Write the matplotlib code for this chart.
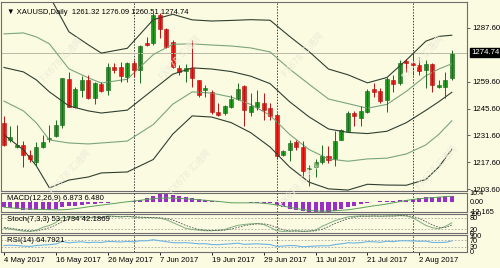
import numpy as np
import matplotlib
matplotlib.use("Agg")
import matplotlib.pyplot as plt

# ── data (XAUUSD daily, 4 May - 9 Aug 2017) ────────────────────────────
opens = [1238.3, 1229.5, 1225.4, 1226.9, 1221.7, 1217.6, 1225.4, 1229.8, 1231.1, 1237.3,
         1261.2, 1246.6, 1255.5, 1260.6, 1251.3, 1258.6, 1255.4, 1267.4, 1267.4, 1262.2,
         1269.5, 1265.8, 1279.8, 1279.8, 1294.3, 1287.1, 1280.3, 1266.9, 1265.3, 1266.9,
         1260.6, 1255.4, 1254.4, 1244.0, 1243.5, 1246.6, 1250.8, 1257.5, 1244.0, 1246.6,
         1248.7, 1246.1, 1242.5, 1221.7, 1223.8, 1228.0, 1225.4, 1213.9, 1215.0, 1217.6,
         1220.7, 1219.2, 1229.5, 1233.7, 1243.5, 1240.9, 1244.0, 1256.0, 1254.9, 1250.3,
         1260.6, 1259.1, 1270.5, 1269.5, 1268.4, 1265.8, 1268.9, 1257.0, 1257.0, 1261.32]
highs = [1241.5, 1236.3, 1237.3, 1228.5, 1224.3, 1228.0, 1232.1, 1237.3, 1239.9, 1261.7,
         1264.8, 1257.0, 1262.7, 1263.2, 1259.6, 1259.6, 1269.5, 1269.5, 1270.0, 1270.0,
         1271.0, 1278.8, 1282.9, 1295.4, 1295.4, 1287.6, 1281.4, 1268.4, 1268.9, 1281.4,
         1260.6, 1258.0, 1255.4, 1248.7, 1247.7, 1252.9, 1259.1, 1258.0, 1253.9, 1255.4,
         1253.9, 1248.7, 1243.5, 1224.3, 1229.5, 1229.5, 1228.5, 1216.0, 1219.2, 1226.9,
         1225.9, 1233.7, 1235.2, 1244.6, 1244.6, 1247.2, 1256.0, 1259.1, 1256.5, 1262.2,
         1263.2, 1271.0, 1271.5, 1275.2, 1272.6, 1271.0, 1269.5, 1260.6, 1264.8, 1276.09]
lows = [1225.9, 1228.0, 1225.0, 1215.0, 1217.6, 1215.5, 1224.9, 1228.0, 1230.6, 1235.7,
        1246.6, 1246.1, 1251.8, 1250.8, 1248.2, 1254.4, 1252.9, 1264.3, 1259.6, 1259.6,
        1262.2, 1259.1, 1278.3, 1278.8, 1282.4, 1277.2, 1266.9, 1263.2, 1259.6, 1257.0,
        1251.8, 1251.8, 1243.0, 1241.5, 1242.5, 1246.1, 1250.3, 1236.3, 1241.5, 1245.1,
        1239.9, 1239.9, 1219.2, 1220.7, 1218.1, 1224.3, 1210.3, 1205.2, 1209.8, 1216.6,
        1217.1, 1215.5, 1229.0, 1233.2, 1236.3, 1236.3, 1243.5, 1251.8, 1248.7, 1244.0,
        1254.4, 1258.0, 1264.8, 1263.2, 1263.2, 1256.5, 1254.4, 1256.5, 1251.3, 1260.51]
closes = [1226.9, 1230.6, 1226.9, 1221.7, 1219.2, 1225.4, 1228.0, 1230.4, 1237.3, 1261.7,
          1246.6, 1256.0, 1260.6, 1251.3, 1259.1, 1254.9, 1267.4, 1265.8, 1262.7, 1269.5,
          1265.8, 1278.3, 1278.8, 1294.3, 1287.1, 1277.7, 1267.4, 1264.8, 1266.9, 1261.7,
          1252.9, 1256.4, 1244.0, 1242.5, 1247.2, 1250.8, 1256.0, 1245.1, 1247.2, 1249.2,
          1245.1, 1241.5, 1220.7, 1223.3, 1227.5, 1225.4, 1212.9, 1214.9, 1217.6, 1220.7,
          1218.6, 1228.5, 1234.2, 1243.5, 1241.5, 1244.6, 1254.9, 1254.4, 1249.7, 1261.2,
          1258.6, 1269.5, 1269.5, 1268.4, 1265.3, 1268.9, 1258.0, 1258.0, 1260.6, 1274.74]

# bollinger bands (20): middle line and one deviation, read at sample bars
bb_bars = [0, 3, 5, 7, 10, 13, 15, 19, 23, 26, 29, 32, 35, 38, 41, 44, 47, 50,
           53, 56, 59, 62, 65, 67, 69]
bb_mid = [1267.0, 1264.7, 1260.5, 1254.3, 1247.0, 1244.4, 1243.3, 1244.8, 1255.5, 1263.5,
          1266.8, 1266.2, 1264.9, 1262.5, 1258.6, 1249.2, 1241.3, 1235.0, 1233.2, 1232.6,
          1233.8, 1238.3, 1244.7, 1249.2, 1254.1]
bb_dev = [17.5, 20.3, 22.4, 25.0, 19.3, 17.2, 15.6, 16.1, 18.2, 15.6,
          12.5, 12.5, 13.3, 14.7, 16.5, 17.0, 17.0, 15.6, 15.0, 13.2,
          14.0, 16.3, 18.0, 17.0, 14.85]

macd = [-6, -7, -8.5, -9.5, -10, -10, -9.8, -9.2, -8.5, -6.5,
        -5.5, -4.5, -3.5, -3, -2.5, -2, -1, -0.8, -0.5, 0.3,
        0.8, 2.5, 4.5, 7, 10.4, 9.8, 8.5, 7, 5.5, 4,
        3, 2, 1.2, 0.6, 0.3, -0.2, -0.5, -0.8, -1, -1.2,
        -1.5, -2, -4, -6.5, -8.5, -10, -11, -11.8, -12.1, -12.165,
        -12, -11, -9, -6.5, -4.5, -2.5, -1.2, -0.5, 0.5, 1,
        1.3, 1.6, 2.5, 3.5, 4.5, 5.2, 5.8, 6, 6.4, 6.873]
macd_sig = [-6.5, -7.2, -7.8, -8.3, -8.7, -9, -9.2, -9.4, -9.5, -9.5,
            -9, -8.2, -7.2, -6, -5, -4, -3, -2, -1, 0,
            0.8, 1.8, 2.8, 3.6, 4.2, 4.5, 4.4, 4, 3.5, 3,
            2.4, 1.8, 1.1, 0.4, -0.4, -1.2, -1.3, -1.3, -1.2, -1.3,
            -1.8, -2.6, -3.8, -5.2, -6.6, -8, -9.2, -10.2, -10.9, -11.1,
            -11, -10.6, -10.1, -9.5, -8.5, -7.3, -6, -4.8, -3.8, -2.6,
            -1.2, 0.2, 1.6, 2.7, 3.6, 4.3, 4.9, 5.5, 6, 6.48]
stoch_k = [25, 20, 15, 10, 8, 15, 30, 40, 55, 85,
           80, 82, 88, 78, 85, 80, 90, 88, 84, 88,
           84, 80, 82, 80, 78, 70, 55, 40, 25, 18,
           15, 12, 12, 15, 18, 30, 40, 45, 48, 50,
           45, 30, 12, 8, 10, 12, 8, 10, 15, 35,
           50, 65, 75, 85, 88, 90, 88, 90, 88, 90,
           90, 92, 90, 80, 60, 40, 28, 22, 35, 53.17]
stoch_d = [30, 25, 20, 15, 11, 11, 18, 28, 42, 60,
           73, 82, 83, 83, 84, 81, 85, 86, 87, 87,
           86, 84, 82, 81, 80, 77, 68, 55, 40, 28,
           19, 15, 13, 13, 15, 21, 29, 38, 44, 48,
           48, 42, 29, 17, 10, 10, 10, 10, 11, 20,
           33, 50, 63, 75, 83, 88, 89, 89, 89, 89,
           89, 91, 91, 87, 77, 60, 43, 30, 28, 42.19]
rsi = [38, 40, 38, 35, 33, 38, 41, 43, 47, 62,
       54, 58, 60, 55, 58, 56, 62, 61, 59, 62,
       60, 66, 66, 72, 66, 61, 55, 54, 55, 52,
       48, 49, 44, 43, 46, 48, 52, 45, 47, 48,
       46, 44, 33, 35, 38, 37, 31, 33, 35, 37,
       36, 44, 48, 54, 53, 55, 61, 60, 57, 63,
       61, 66, 66, 65, 63, 64, 56, 56, 57, 64.79]

date_ticks = [0, 8, 16, 24, 32, 40, 48, 56, 64]
date_labels = ["4 May 2017", "16 May 2017", "26 May 2017", "7 Jun 2017", "19 Jun 2017",
               "29 Jun 2017", "11 Jul 2017", "21 Jul 2017", "2 Aug 2017"]
separators = [20, 42, 63]
price_ticks = [1287.6, 1259.6, 1245.6, 1231.6, 1217.6, 1203.6]
last_price = 1274.74

# ── figure layout, in pixels ───────────────────────────────────────────
W, H = 500, 268
BG = "#fbfbe2"
FRAME = "#6e6e6e"
plt.rcParams["font.family"] = ["Liberation Sans", "DejaVu Sans"]
fs = 5.6

fig = plt.figure(figsize=(W / 100, H / 100), dpi=100, facecolor=BG)


def px_axes(x0, y0, x1, y1):
    ax = fig.add_axes([x0 / W, 1 - y1 / H, (x1 - x0) / W, (y1 - y0) / H])
    ax.set_facecolor(BG)
    for s in ax.spines.values():
        s.set_color(FRAME)
        s.set_linewidth(0.8)
    ax.set_xlim(-0.46, 71.34)
    ax.tick_params(axis="x", bottom=False, labelbottom=False)
    ax.yaxis.tick_right()
    ax.tick_params(axis="y", length=2, width=0.6, color="#444444", labelsize=fs, pad=1.5)
    for b in separators:
        ax.axvline(b, color="#404040", lw=0.7, ls=(0, (1.5, 1.5)))
    return ax


x = np.arange(len(closes))

# ── main price panel ───────────────────────────────────────────────────
ax = px_axes(1, 2, 467, 191)
ax.set_ylim(1202.7, 1301.1)
ax.set_yticks(price_ticks)
ax.set_yticklabels([f"{p:.2f}" for p in price_ticks])
ax.axhline(last_price, color="#b8b8a8", lw=0.7)

bb_x = np.array(bb_bars)
mid = np.array(bb_mid)
dev = np.array(bb_dev)
for k, col in [(2, "#2f3f2f"), (1, "#7aa57a"), (0, "#2f3f2f"), (-1, "#7aa57a"), (-2, "#2f3f2f")]:
    ax.plot(bb_x, mid + k * dev, color=col, lw=0.8)

o = np.array(opens)
c = np.array(closes)
up = c >= o
body_lo = np.minimum(o, c)
body_h = np.maximum(np.abs(c - o), 0.5)
ax.vlines(x[up], np.array(lows)[up], np.array(highs)[up], color="#1a6e1a", lw=0.7)
ax.vlines(x[~up], np.array(lows)[~up], np.array(highs)[~up], color="#c01010", lw=0.7)
ax.bar(x[up], body_h[up], bottom=body_lo[up], width=0.62, color="#1f9a1f",
       edgecolor="#156015", lw=0.4)
ax.bar(x[~up], body_h[~up], bottom=body_lo[~up], width=0.62, color="#e8221a",
       edgecolor="#b01010", lw=0.4)

ax.text(0.012, 0.965, "▼ XAUUSD,Daily  1261.32 1276.09 1260.51 1274.74",
        transform=ax.transAxes, fontsize=fs - 0.1, va="top", ha="left", color="black")
ax.text(1.01, last_price, f"{last_price:.2f}", transform=ax.get_yaxis_transform(),
        fontsize=fs, va="center", ha="left", color="white",
        bbox=dict(boxstyle="square,pad=0.15", fc="black", ec="black"))

# watermarks
for wx, wy in [(62, 60), (180, 58), (303, 55), (423, 58), (70, 172), (190, 172), (300, 185), (437, 168)]:
    fig.text(wx / W, 1 - wy / H, "FX678 汇通网", rotation=48, fontsize=6.2,
             color="#ebebd8", ha="center", va="center",
             family=["DejaVu Sans", "Noto Sans CJK SC"], zorder=0)

# ── MACD ───────────────────────────────────────────────────────────────
ax2 = px_axes(1, 193, 467, 212)
ax2.set_ylim(-12.165, 10.4)
ax2.bar(x, macd, width=0.62, color="#9a2fc6")
ax2.plot(x, macd_sig, color="#5aa05a", lw=0.7)
ax2.set_yticks([10.4, 0, -12.165])
ax2.set_yticklabels(["10.4", "0.00", "-12.165"])
ax2.tick_params(axis="y", length=0, labelsize=fs - 0.4, pad=2)
ax2.text(0.012, 0.9, "MACD(12,26,9) 6.873 6.480", transform=ax2.transAxes,
         fontsize=fs, va="top", ha="left")

# ── Stochastic ─────────────────────────────────────────────────────────
ax3 = px_axes(1, 214, 467, 233)
ax3.set_ylim(0, 100)
for lvl in (80, 20):
    ax3.axhline(lvl, color="#a8a8a0", lw=0.6, ls=(0, (2, 2)))
ax3.plot(x, stoch_k, color="#7cae7c", lw=0.7)
ax3.plot(x, stoch_d, color="#555555", lw=0.6, ls=(0, (2, 1.5)))
ax3.set_yticks([100, 80, 20, 0])
ax3.set_yticklabels(["100", "80", "20", "0"])
ax3.tick_params(axis="y", length=0, labelsize=fs - 0.4, pad=2)
ax3.text(0.012, 0.88, "Stoch(7,3,3) 53.1734 42.1869", transform=ax3.transAxes,
         fontsize=fs, va="top", ha="left")

# ── RSI ────────────────────────────────────────────────────────────────
ax4 = px_axes(1, 235, 467, 252)
ax4.set_ylim(0, 100)
for lvl in (70, 30):
    ax4.axhline(lvl, color="#a8a8a0", lw=0.6, ls=(0, (2, 2)))
ax4.plot(x, rsi, color="#6cb4e4", lw=0.8)
ax4.set_yticks([100, 70, 30, 0])
ax4.set_yticklabels(["100", "70", "30", "0"])
ax4.tick_params(axis="y", length=0, labelsize=fs - 0.4, pad=2)
ax4.text(0.012, 0.88, "RSI(14) 64.7921", transform=ax4.transAxes,
         fontsize=fs, va="top", ha="left")

ax4.set_xticks(date_ticks)
ax4.set_xticklabels(date_labels)
ax4.tick_params(axis="x", bottom=True, labelbottom=True, length=2, width=0.6,
                labelsize=fs, pad=1.5)
for lbl in ax4.get_xticklabels():
    lbl.set_horizontalalignment("left")

fig.savefig("out.png", dpi=100, facecolor=BG)
